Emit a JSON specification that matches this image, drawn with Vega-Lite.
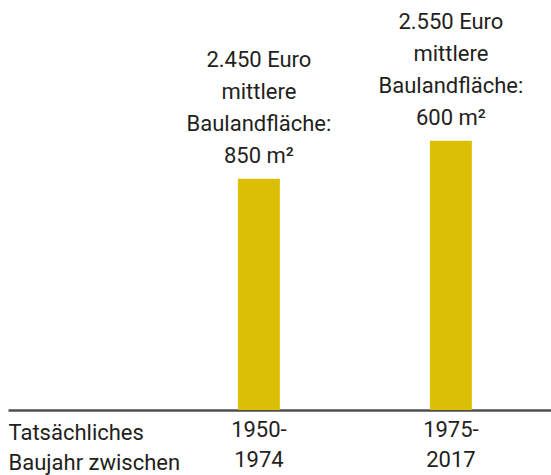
{
  "$schema": "https://vega.github.io/schema/vega-lite/v6.json",
  "width": 543,
  "height": 410,
  "autosize": {"type": "none"},
  "padding": {"left": 8, "top": 0, "right": 0, "bottom": 65},
  "background": "white",
  "config": {"view": {"stroke": null}, "font": "Roboto"},
  "data": {
    "values": [
      {"period": "1950- 1974", "euro": 2450, "label": "2.450 Euro\nmittlere\nBaulandfläche:\n850 m²"},
      {"period": "1975- 2017", "euro": 2550, "label": "2.550 Euro\nmittlere\nBaulandfläche:\n600 m²"}
    ]
  },
  "encoding": {
    "x": {
      "field": "period",
      "type": "nominal",
      "sort": null,
      "scale": {"paddingInner": 0.78125, "paddingOuter": 0.8047, "align": 0.744},
      "axis": {
        "title": ["Tatsächliches", "Baujahr zwischen"],
        "titleX": 0,
        "titleY": 29,
        "titleAlign": "left",
        "titleAnchor": "start",
        "titleBaseline": "alphabetic",
        "titleFontSize": 22,
        "titleFontWeight": "normal",
        "titleColor": "#231f20",
        "titleLineHeight": 30,
        "labelExpr": "split(datum.label, ' ')",
        "labelAngle": 0,
        "labelFontSize": 22,
        "labelColor": "#231f20",
        "labelLineHeight": 30,
        "labelPadding": 9,
        "labelBaseline": "top",
        "ticks": false,
        "domainColor": "#4d4f51",
        "domainWidth": 2.5
      }
    },
    "y": {
      "field": "euro",
      "type": "quantitative",
      "scale": {"domain": [1840, 2921], "zero": false},
      "axis": null
    }
  },
  "layer": [
    {"mark": {"type": "bar", "color": "#dbbf05"}, "encoding": {"y2": {"datum": 1840}}},
    {
      "mark": {
        "type": "text",
        "lineBreak": "\n",
        "baseline": "alphabetic",
        "fontSize": 22,
        "color": "#231f20",
        "lineHeight": 32,
        "dy": -112
      },
      "encoding": {"text": {"field": "label"}}
    }
  ]
}
